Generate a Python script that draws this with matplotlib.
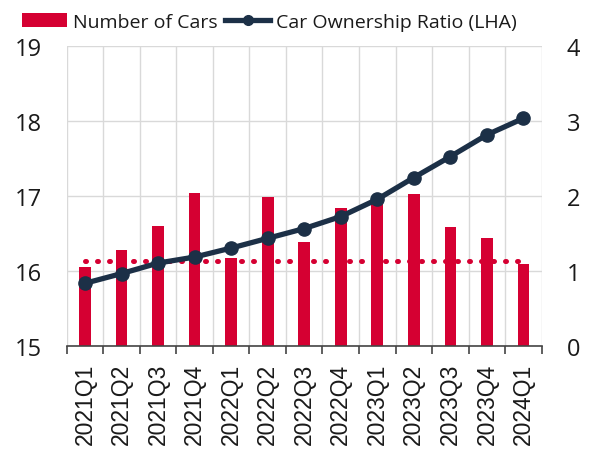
import matplotlib
matplotlib.use("Agg")
import matplotlib.pyplot as plt
import numpy as np
from matplotlib.patches import Patch
from matplotlib.lines import Line2D

categories = ["2021Q1", "2021Q2", "2021Q3", "2021Q4", "2022Q1", "2022Q2", "2022Q3",
              "2022Q4", "2023Q1", "2023Q2", "2023Q3", "2023Q4", "2024Q1"]
num_cars = [1.06, 1.28, 1.61, 2.05, 1.18, 1.99, 1.39, 1.84, 1.90, 2.03, 1.59, 1.45, 1.10]
ownership_ratio = [15.84, 15.97, 16.11, 16.19, 16.31, 16.44, 16.57, 16.73, 16.96,
                   17.25, 17.53, 17.82, 18.04]
reference_level = 1.14
left_ticks = [15, 16, 17, 18, 19]
right_ticks = [0, 1, 2, 3, 4]

RED = "#d50032"
NAVY = "#1c3047"
GRID = "#d9d9d9"

plt.rcParams['font.family'] = ['Open Sans', 'DejaVu Sans']

fig = plt.figure(figsize=(5.92, 4.52), dpi=100)
ax = fig.add_axes([0.1127, 0.2316, 0.8024, 0.6638])
ax2 = ax.twinx()

x = np.arange(len(categories))

# Bars on primary (0-4 scale), shown on right
ax.bar(x, num_cars, width=0.32, color=RED, zorder=2)
ax.plot([x[0], x[-1]], [reference_level, reference_level], color=RED, lw=3.6,
        linestyle=(0, (0.2, 2.2)), dash_capstyle='round', zorder=3)
ax.set_ylim(0, 4)
ax.set_xlim(-0.5, len(categories) - 0.5)

# Line on secondary (15-19 scale), shown on left
ax2.plot(x, ownership_ratio, color=NAVY, lw=3.8, marker='o', markersize=9.5, zorder=4)
ax2.set_ylim(15, 19)

# Ticks / labels
ax.yaxis.tick_right()
ax.set_yticks(right_ticks)
ax2.yaxis.tick_left()
ax2.set_yticks(left_ticks)
ax.tick_params(axis='y', length=0, pad=18, labelsize=17, labelcolor='#1a1a1a')
ax2.tick_params(axis='y', length=0, pad=18, labelsize=17, labelcolor='#1a1a1a')

ax.set_xticks(np.arange(-0.5, len(categories)), minor=False)
ax.set_xticklabels([])
ax.set_xticks(x, minor=True)
ax.set_xticklabels(categories, minor=True, rotation=90, fontsize=16.5,
                   family=['Liberation Sans', 'DejaVu Sans'], va='top')
ax.tick_params(axis='x', which='major', length=6, width=1.2, color='#444444', direction='out')
ax.tick_params(axis='x', which='minor', length=0, pad=12, labelcolor='#1a1a1a')

# Grid
ax.set_axisbelow(True)
ax.grid(True, which='major', axis='both', color=GRID, lw=1.0, zorder=0)
for sp in ['left', 'right', 'top']:
    ax.spines[sp].set_visible(False)
    ax2.spines[sp].set_visible(False)
ax2.spines['bottom'].set_visible(False)
ax.spines['bottom'].set_color('#444444')
ax.spines['bottom'].set_linewidth(1.2)

# Legend
handles = [Patch(facecolor=RED, edgecolor='none'),
           Line2D([0], [0], color=NAVY, lw=3.8, marker='o', markersize=7)]
fig.legend(handles, ["Number of Cars", "Car Ownership Ratio (LHA)"], loc='upper left',
           bbox_to_anchor=(0.018, 0.995), ncol=2, frameon=False, fontsize=14,
           handlelength=2.3, handletextpad=0.3, columnspacing=0.4, borderaxespad=0.2,
           labelcolor='#1a1a1a')

fig.savefig("out.png", dpi=100)
